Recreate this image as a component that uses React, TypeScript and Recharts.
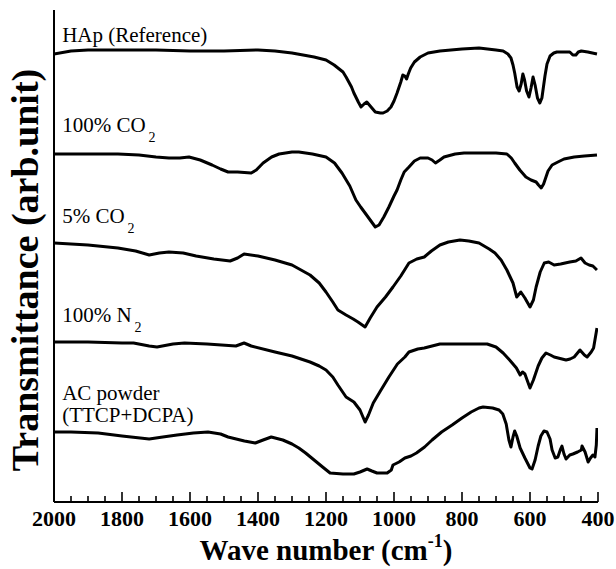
import React from 'react';
import { LineChart, Line, XAxis, YAxis, ReferenceDot } from 'recharts';

// FTIR spectra, transmittance in arb. units (offset stacked), wave number in cm-1
const hapWave = [2000, 1950, 1900, 1800, 1700, 1600, 1500, 1400, 1350, 1300, 1235, 1200, 1176, 1150, 1141, 1125, 1118, 1105, 1097, 1088, 1080, 1070, 1055, 1040, 1032, 1020, 1009, 1000, 991, 980, 974, 968, 963, 958, 951, 940, 923, 900, 865, 800, 750, 700, 679, 665, 656, 650, 645, 638, 632, 626, 621, 616, 610, 603, 597, 591, 585, 578, 571, 565, 556, 550, 541, 530, 521, 500, 483, 474, 465, 458, 449, 430, 403];
const hapT = [448, 451, 452, 452, 452, 451, 451, 452, 451, 449, 445, 442, 437, 430, 425, 415, 409, 400, 395, 398, 400, 396, 390, 389, 389, 391, 395, 401, 409, 420, 427, 426, 423, 428, 434, 440, 445, 449, 451, 453, 454, 452, 451, 448, 444, 437, 429, 415, 411, 418, 428, 422, 411, 405, 414, 425, 417, 404, 399, 404, 426, 438, 446, 449, 450, 450, 450, 447, 447, 450, 451, 450, 448];

const co2Wave = [2000, 1900, 1812, 1750, 1700, 1662, 1630, 1603, 1570, 1535, 1510, 1488, 1460, 1420, 1405, 1385, 1360, 1338, 1300, 1280, 1240, 1200, 1175, 1153, 1130, 1112, 1098, 1085, 1070, 1055, 1044, 1030, 1015, 1000, 991, 980, 970, 956, 940, 923, 900, 888, 878, 865, 853, 820, 794, 750, 700, 668, 655, 645, 630, 612, 597, 582, 575, 567, 560, 547, 535, 518, 500, 470, 440, 403];
const co2T = [348, 348, 348, 347, 345, 344, 344, 345, 342, 337, 333, 330, 330, 329, 332, 339, 345, 348, 350, 350, 348, 345, 339, 329, 316, 302, 295, 289, 282, 275, 277, 285, 295, 306, 312, 322, 330, 335, 341, 344, 344, 342, 339, 342, 345, 348, 349, 349, 349, 348, 344, 339, 332, 325, 322, 320, 317, 314, 318, 331, 337, 340, 343, 345, 346, 347];

const co2LowWave = [2000, 1900, 1812, 1760, 1720, 1690, 1662, 1620, 1582, 1530, 1482, 1460, 1441, 1400, 1350, 1300, 1247, 1220, 1200, 1180, 1165, 1141, 1120, 1106, 1085, 1070, 1050, 1025, 1003, 980, 956, 933, 911, 890, 865, 840, 806, 780, 750, 720, 703, 685, 668, 650, 639, 627, 615, 600, 590, 582, 570, 558, 545, 529, 510, 483, 465, 450, 438, 426, 415, 403];
const co2LowT = [259, 257, 254, 251, 247, 249, 250, 249, 246, 243, 241, 244, 248, 246, 242, 237, 227, 219, 210, 200, 192, 187, 183, 180, 175, 184, 195, 205, 215, 226, 239, 243, 245, 251, 257, 260, 262, 261, 259, 253, 249, 242, 232, 219, 205, 210, 204, 195, 202, 215, 230, 239, 240, 237, 238, 240, 241, 244, 239, 237, 236, 232];

const n2Wave = [2000, 1900, 1800, 1766, 1720, 1697, 1650, 1616, 1550, 1465, 1441, 1420, 1350, 1300, 1247, 1220, 1200, 1180, 1165, 1141, 1118, 1100, 1085, 1075, 1061, 1040, 1015, 990, 968, 956, 930, 911, 865, 800, 726, 700, 679, 660, 640, 629, 622, 615, 600, 590, 576, 565, 553, 540, 529, 494, 482, 470, 453, 440, 432, 420, 413, 405, 403];
const n2T = [160, 160, 159, 159, 156, 155, 158, 159, 158, 156, 159, 156, 150, 146, 140, 136, 132, 125, 117, 105, 100, 92, 80, 87, 99, 111, 125, 138, 145, 150, 153, 154, 158, 158, 158, 155, 149, 142, 134, 127, 130, 128, 114, 122, 136, 144, 149, 147, 145, 142, 143, 145, 152, 147, 145, 150, 154, 170, 174];

const acWave = [2000, 1950, 1870, 1800, 1720, 1680, 1638, 1590, 1547, 1510, 1488, 1440, 1408, 1385, 1361, 1327, 1300, 1280, 1260, 1235, 1210, 1188, 1150, 1118, 1100, 1079, 1065, 1050, 1020, 1008, 1003, 985, 968, 950, 934, 910, 888, 860, 829, 800, 773, 750, 738, 710, 691, 680, 670, 662, 656, 650, 645, 639, 629, 615, 600, 594, 585, 576, 568, 559, 550, 541, 535, 526, 518, 510, 506, 500, 494, 483, 474, 460, 449, 447, 438, 429, 422, 415, 409, 405, 403];
const acT = [70, 70, 69, 66, 63, 65, 67, 69, 70, 68, 65, 61, 59, 62, 65, 62, 58, 54, 49, 42, 35, 29, 28, 28, 30, 33, 31, 29, 29, 32, 37, 40, 44, 46, 49, 55, 62, 70, 77, 84, 90, 94, 95, 94, 92, 88, 78, 62, 55, 65, 71, 66, 54, 44, 34, 33, 42, 56, 66, 71, 70, 63, 52, 44, 45, 53, 56, 48, 43, 47, 48, 50, 52, 56, 50, 40, 44, 47, 45, 57, 74];

const xTicks = [2000, 1950, 1900, 1850, 1800, 1750, 1700, 1650, 1600, 1550, 1500, 1450, 1400, 1350, 1300, 1250, 1200, 1150, 1100, 1050, 1000, 950, 900, 850, 800, 750, 700, 650, 600, 550, 500, 450, 400];

// sample names, anchored at (wave number, arb. value)
const labelText = ['HAp (Reference)', '100% CO', '5% CO', '100% N', 'AC powder', '(TTCP+DCPA)'];
const labelSub = ['', '2', '2', '2', '', ''];
const labelWave = [1976, 1976, 1976, 1976, 1976, 1976];
const labelT = [460, 370, 279, 180, 102, 80];

const toRows = (w: number[], t: number[]) => w.map((v, i) => ({ w: v, t: t[i] }));

const series = [
  toRows(hapWave, hapT),
  toRows(co2Wave, co2T),
  toRows(co2LowWave, co2LowT),
  toRows(n2Wave, n2T),
  toRows(acWave, acT),
];

const FONT = '"Liberation Serif", "Times New Roman", serif';

const WaveTick = (props: any) => {
  const { x, y, payload } = props;
  const major = payload.value % 200 === 0;
  return (
    <g>
      <line x1={x} y1={y} x2={x} y2={y - (major ? 10 : 6)} stroke="#000" strokeWidth={1.6} />
      {major && (
        <text x={x} y={y + 24} textAnchor="middle" fontFamily={FONT} fontWeight="bold" fontSize={22} fill="#000">
          {payload.value}
        </text>
      )}
    </g>
  );
};

const XTitle = (props: any) => {
  const { viewBox } = props;
  const cx = viewBox.x + viewBox.width / 2;
  return (
    <text x={cx} y={560} textAnchor="middle" fontFamily={FONT} fontWeight="bold" fontSize={29} fill="#000">
      Wave number (cm
      <tspan fontSize={18} dy={-13}>-1</tspan>
      <tspan dy={13}>)</tspan>
    </text>
  );
};

const YTitle = () => (
  <text
    x={0}
    y={0}
    transform="translate(38, 270) rotate(-90)"
    textAnchor="middle"
    fontFamily={FONT}
    fontWeight="bold"
    fontSize={38}
    fill="#000"
  >
    Transmittance (arb.unit)
  </text>
);

const SampleLabel = (i: number) => (props: any) => (
  <text x={props.cx} y={props.cy} fontFamily={FONT} fontSize={21} fill="#000">
    {labelText[i]}
    {labelSub[i] && (
      <tspan fontSize={14} dx={3} dy={10}>
        {labelSub[i]}
      </tspan>
    )}
  </text>
);

export default function App() {
  return (
    <div style={{ position: 'absolute', left: 0, top: 0, width: 616, height: 569, background: '#fff' }}>
      <LineChart width={616} height={569} margin={{ top: 10, right: 18, bottom: 0, left: 0 }}>
        <XAxis
          dataKey="w"
          type="number"
          domain={[400, 2000]}
          reversed
          ticks={xTicks}
          interval={0}
          tickSize={0}
          tickMargin={0}
          tickLine={false}
          tick={<WaveTick />}
          height={67}
          axisLine={{ stroke: '#000', strokeWidth: 2 }}
          allowDataOverflow
          label={<XTitle />}
        />
        <XAxis
          xAxisId="top"
          orientation="top"
          dataKey="w"
          type="number"
          domain={[400, 2000]}
          reversed
          height={0}
          tick={false}
          tickLine={false}
          axisLine={{ stroke: '#000', strokeWidth: 2 }}
        />
        <YAxis
          type="number"
          domain={[0, 492]}
          width={54}
          tick={false}
          tickLine={false}
          axisLine={{ stroke: '#000', strokeWidth: 2 }}
          label={<YTitle />}
        />
        <YAxis
          yAxisId="right"
          orientation="right"
          type="number"
          domain={[0, 492]}
          width={0}
          tick={false}
          tickLine={false}
          axisLine={{ stroke: '#000', strokeWidth: 2 }}
        />
        {series.map((rows, i) => (
          <Line
            key={i}
            data={rows}
            dataKey="t"
            type="linear"
            stroke="#000"
            strokeWidth={3}
            strokeLinejoin="round"
            dot={false}
            activeDot={false}
            isAnimationActive={false}
          />
        ))}
        {labelText.map((_, i) => (
          <ReferenceDot key={i} x={labelWave[i]} y={labelT[i]} r={0} shape={SampleLabel(i)} />
        ))}
      </LineChart>
    </div>
  );
}
